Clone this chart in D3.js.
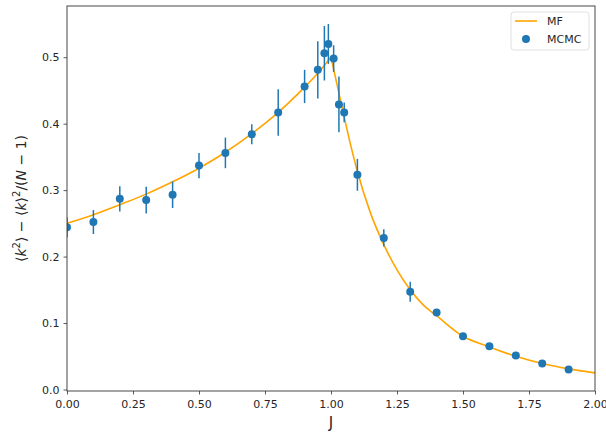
<!DOCTYPE html>
<html>
<head>
<meta charset="utf-8">
<script src="https://cdn.jsdelivr.net/npm/d3@7"></script>
<style>
  body { margin: 0; background: #fff; }
  text { font-family: "DejaVu Sans", sans-serif; fill: #262626; }
</style>
</head>
<body>
<div id="chart"></div>
<script>
// MCMC estimates with error bars
var mcmcJ = [0, 0.1, 0.2, 0.3, 0.4, 0.5, 0.6, 0.7, 0.8, 0.9, 0.95, 0.975, 0.99, 1.01, 1.03, 1.05, 1.1, 1.2, 1.3, 1.4, 1.5, 1.6, 1.7, 1.8, 1.9];
var mcmcValue = [0.244, 0.252, 0.287, 0.285, 0.293, 0.337, 0.356, 0.384, 0.417, 0.456, 0.481, 0.506, 0.520, 0.498, 0.429, 0.417, 0.323, 0.228, 0.147, 0.116, 0.080, 0.065, 0.051, 0.039, 0.030];
var mcmcError = [0.015, 0.018, 0.019, 0.02, 0.02, 0.019, 0.023, 0.015, 0.035, 0.025, 0.043, 0.041, 0.03, 0.02, 0.042, 0.015, 0.024, 0.013, 0.015, 0.005, 0.004, 0.004, 0.004, 0.004, 0.004];

// mean-field curve (two branches meeting at J = 1)
var mfLeftJ = [0, 0.1, 0.2, 0.3, 0.4, 0.5, 0.6, 0.7, 0.8, 0.9, 0.95, 1.0];
var mfLeftValue = [0.250, 0.263, 0.278, 0.294, 0.3125, 0.333, 0.357, 0.385, 0.417, 0.455, 0.476, 0.500];
var mfRightJ = [1.0, 1.025, 1.05, 1.075, 1.1, 1.15, 1.2, 1.25, 1.3, 1.35, 1.4, 1.5, 1.6, 1.7, 1.8, 1.9, 2.0];
var mfRightValue = [0.500, 0.455, 0.410, 0.367, 0.328, 0.265, 0.218, 0.180, 0.150, 0.127, 0.111, 0.080, 0.064, 0.050, 0.039, 0.031, 0.025];

var xTicks = [0, 0.25, 0.5, 0.75, 1.0, 1.25, 1.5, 1.75, 2.0];
var yTicks = [0, 0.1, 0.2, 0.3, 0.4, 0.5];

var svgWidth = 606;
var svgHeight = 434;
var margin = { top: 6, right: 11, bottom: 43, left: 67 };
var width = svgWidth - margin.left - margin.right;
var height = svgHeight - margin.top - margin.bottom;

var svg = d3.select("#chart")
  .append("svg")
  .attr("width", svgWidth)
  .attr("height", svgHeight);

var chartGroup = svg.append("g")
  .attr("transform", `translate(${margin.left}, ${margin.top})`);

var x = d3.scaleLinear().domain([0, 2]).range([0, width]);
var y = d3.scaleLinear().domain([-0.0023, 0.5771]).range([height, 0]);

chartGroup.append("clipPath").attr("id", "plotclip")
  .append("rect").attr("width", width).attr("height", height);

// axes
var bottomAxis = d3.axisBottom(x).tickValues(xTicks).tickFormat(d3.format(".2f")).tickSize(3.5).tickSizeOuter(0);
var leftAxis = d3.axisLeft(y).tickValues(yTicks).tickFormat(d3.format(".1f")).tickSize(3.5).tickSizeOuter(0);

var gx = chartGroup.append("g")
  .attr("transform", `translate(0, ${height})`)
  .call(bottomAxis);
var gy = chartGroup.append("g").call(leftAxis);

[gx, gy].forEach(function(g) {
  g.select(".domain").remove();
  g.selectAll(".tick line").attr("stroke", "#333").attr("stroke-width", 0.8);
  g.selectAll(".tick text").attr("font-size", 11).attr("fill", "#262626")
    .style("font-family", "DejaVu Sans, sans-serif");
});
gx.selectAll(".tick text").attr("dy", "0.95em");
gy.selectAll(".tick text").attr("dx", "-0.1em");

// MF curve
var plot = chartGroup.append("g").attr("clip-path", "url(#plotclip)");
var mfLine = d3.line()
  .x(d => x(d[0]))
  .y(d => y(d[1]))
  .curve(d3.curveMonotoneX);

[d3.zip(mfLeftJ, mfLeftValue), d3.zip(mfRightJ, mfRightValue)].forEach(function(branch) {
  plot.append("path")
    .datum(branch)
    .attr("d", mfLine)
    .attr("fill", "none")
    .attr("stroke", "orange")
    .attr("stroke-width", 1.6);
});

// MCMC points
var mcmc = mcmcJ.map(function(j, i) {
  return { j: j, v: mcmcValue[i], e: mcmcError[i] };
});

plot.selectAll(".errbar")
  .data(mcmc)
  .enter()
  .append("line")
  .attr("x1", d => x(d.j))
  .attr("x2", d => x(d.j))
  .attr("y1", d => y(d.v - d.e))
  .attr("y2", d => y(d.v + d.e))
  .attr("stroke", "#1f77b4")
  .attr("stroke-width", 1.5);

plot.selectAll(".pt")
  .data(mcmc)
  .enter()
  .append("circle")
  .attr("cx", d => x(d.j))
  .attr("cy", d => y(d.v))
  .attr("r", 4)
  .attr("fill", "#1f77b4");

// frame
chartGroup.append("rect")
  .attr("width", width)
  .attr("height", height)
  .attr("fill", "none")
  .attr("stroke", "#333")
  .attr("stroke-width", 0.9);

// legend
var legend = chartGroup.append("g").attr("transform", `translate(${width - 84}, 6)`);
legend.append("rect")
  .attr("width", 78).attr("height", 38).attr("rx", 3)
  .attr("fill", "#fff").attr("fill-opacity", 0.8)
  .attr("stroke", "#d8d8d8").attr("stroke-width", 0.8);
legend.append("line")
  .attr("x1", 4).attr("x2", 26).attr("y1", 9).attr("y2", 9)
  .attr("stroke", "orange").attr("stroke-width", 1.6);
legend.append("text").attr("x", 36).attr("y", 13).attr("font-size", 11).text("MF");
legend.append("line")
  .attr("x1", 15).attr("x2", 15).attr("y1", 23).attr("y2", 31)
  .attr("stroke", "#1f77b4").attr("stroke-width", 1.5);
legend.append("circle").attr("cx", 15).attr("cy", 27).attr("r", 4).attr("fill", "#1f77b4");
legend.append("text").attr("x", 36).attr("y", 31).attr("font-size", 11).text("MCMC");

// axis labels
svg.append("text")
  .attr("x", margin.left + width / 2)
  .attr("y", 428)
  .attr("text-anchor", "middle")
  .attr("font-size", 15)
  .text("J");

var ylab = svg.append("text")
  .attr("transform", `translate(26, ${margin.top + height / 2}) rotate(-90)`)
  .attr("text-anchor", "middle")
  .attr("font-size", 14);
ylab.append("tspan").text("\u27E8");
ylab.append("tspan").attr("font-style", "italic").text("k");
ylab.append("tspan").attr("font-size", 10).attr("dy", -6).text("2");
ylab.append("tspan").attr("dy", 6).text("\u27E9 \u2212 \u27E8");
ylab.append("tspan").attr("font-style", "italic").text("k");
ylab.append("tspan").text("\u27E9");
ylab.append("tspan").attr("font-size", 10).attr("dy", -6).text("2");
ylab.append("tspan").attr("dy", 6).text("/(");
ylab.append("tspan").attr("font-style", "italic").text("N");
ylab.append("tspan").text(" \u2212 1)");
</script>
</body>
</html>
